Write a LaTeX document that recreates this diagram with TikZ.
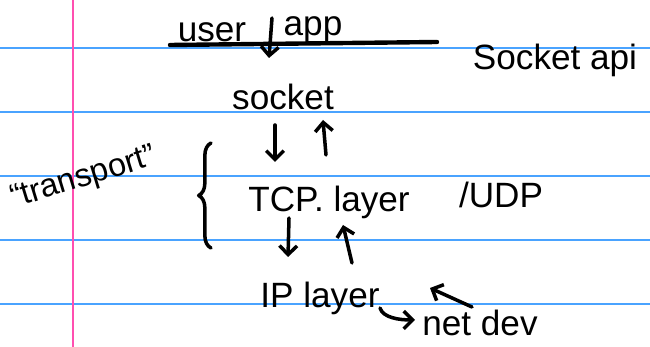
\documentclass[tikz,border=0pt]{standalone}
\usepackage{fontspec}
\setmainfont{Liberation Sans}
\usetikzlibrary{arrows.meta, calc, decorations.pathreplacing}
\definecolor{paperblue}{RGB}{74,163,255}
\definecolor{marginpink}{RGB}{255,79,176}
\tikzset{>={Straight Barb[length=5pt,width=10pt]}}
\tikzset{
  hand/.style={font=\fontsize{20}{24}\selectfont, inner sep=0pt, anchor=base},
  pen/.style={line width=2pt, line cap=round, line join=round},
  ruling/.style={line width=0.9pt, color=paperblue},
}

\begin{document}
\begin{tikzpicture}[x=0.02cm, y=-0.02cm]
\useasboundingbox (0,0) rectangle (650,347);
% paper
\foreach \y in {48,112,176,240,304}
  \draw[ruling] (0,\y) -- (650,\y);
\draw[line width=1.2pt, marginpink] (73,0) -- (73,347);

% labels
\node[hand] (user) at (212,42) {user};
\node[hand] (app) at (313,36) {app};
\node[hand] (api) at (555,70) {Socket api};
\node[hand] (socket) at (283,110) {socket};
\node[hand] (tcp) at (329,212) {TCP. layer};
\node[hand] (udp) at (501,208) {/UDP};
\node[hand] (ip) at (320,308) {IP layer};
\node[hand] (netdev) at (480,336) {net dev};
\node[hand, font=\fontsize{18.5}{22}\selectfont, rotate=17] (transport) at (86,186) {``transport''};

% arrows
\draw[pen, line width=2.5pt] ($(user.base)+(-42,3)$) -- ($(app.base)+(124,6)$);
\draw[pen, ->] ($(user.base)+(60,-24)$) -- ($(socket.base)+(-14,-52)$);
\draw[pen, ->] ($(socket.base)+(-8,15)$) -- ($(tcp.base)+(-54,-50)$);
\draw[pen, ->] ($(tcp.base)+(-3,-57)$) -- ($(socket.base)+(40,10)$);
\draw[pen, ->] ($(tcp.base)+(-40,6)$) -- ($(ip.base)+(-32,-51)$);
\draw[pen, ->] ($(ip.base)+(32,-45)$) -- ($(tcp.base)+(14,13)$);
\draw[pen, ->] ($(ip.base)+(60,0)$) .. controls +(3,10) and +(-15,0) .. ($(netdev.base)+(-65,-16)$);
\draw[pen, ->] ($(netdev.base)+(-8,-29)$) -- ($(ip.base)+(110,-20)$);

% brace
\draw[pen, decorate, decoration={brace, amplitude=7pt}] (211,248) -- (211,143);
\end{tikzpicture}
\end{document}
